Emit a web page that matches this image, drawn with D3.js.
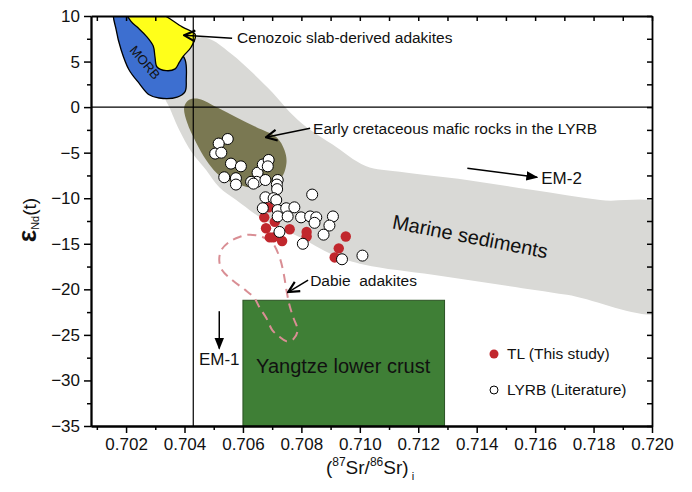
<!DOCTYPE html>
<html>
<head>
<meta charset="utf-8">
<script src="https://cdn.jsdelivr.net/npm/d3@7"></script>
<style>
  body { margin: 0; background: #fff; }
  svg text { font-family: Arial, "Liberation Sans", sans-serif; }
</style>
</head>
<body>
<div id="chart"></div>
<script>
// axis ticks
var srTicks = [0.702, 0.704, 0.706, 0.708, 0.710, 0.712, 0.714, 0.716, 0.718, 0.720];
var srMinor = [0.701, 0.703, 0.705, 0.707, 0.709, 0.711, 0.713, 0.715, 0.717, 0.719];
var ndTicks = [-35, -30, -25, -20, -15, -10, -5, 0, 5, 10];
var ndMinor = [-32.5, -27.5, -22.5, -17.5, -12.5, -7.5, -2.5, 2.5, 7.5];

// TL (this study)
var tlSr = [0.70688, 0.70673, 0.70679, 0.70692, 0.70704, 0.70734, 0.70760, 0.70818, 0.70818, 0.70952, 0.70928, 0.70914, 0.70709];
var tlNd = [-11.0, -12.1, -13.3, -14.3, -14.3, -14.7, -13.4, -13.7, -14.2, -14.2, -15.5, -16.5, -12.6];

// LYRB (literature)
var lyrbSr = [0.70548, 0.70517, 0.70505, 0.70526, 0.70559, 0.70593, 0.70536, 0.70576, 0.70576, 0.70650,
              0.70668, 0.70688, 0.70685, 0.70647, 0.70628, 0.70677, 0.70636, 0.70719, 0.70716, 0.70717,
              0.70677, 0.70705, 0.70714, 0.70668, 0.70719, 0.70748, 0.70776, 0.70719, 0.70753, 0.70799,
              0.70830, 0.70851, 0.70908, 0.70845, 0.70896, 0.70876, 0.70805, 0.70725, 0.70837, 0.71009,
              0.70939];
var lyrbNd = [-3.5, -4.0, -5.1, -5.0, -6.2, -6.5, -7.7, -7.8, -8.5, -7.2,
              -6.3, -5.8, -6.5, -8.2, -8.2, -8.0, -8.4, -8.0, -8.5, -9.0,
              -9.9, -10.0, -10.2, -11.1, -11.3, -11.1, -11.0, -12.0, -12.0, -12.1,
              -12.0, -12.1, -12.0, -12.7, -13.0, -14.0, -15.0, -13.7, -9.6, -16.3,
              -16.7];

// fields [Sr, Nd]
var marineField = [[0.70440, 7.7], [0.70492, 7.4], [0.70564, 5.75], [0.70622, 4.1], [0.70701, 1.6],
  [0.70759, -0.5], [0.70818, -2.2], [0.70907, -4.1], [0.71020, -6.45], [0.71137, -7.1],
  [0.71366, -8.0], [0.71593, -9.1], [0.71823, -10.2], [0.7205, -11.0], [0.7205, -22.3],
  [0.71709, -20.6], [0.71480, -19.5], [0.71250, -18.4], [0.71016, -17.3], [0.70907, -16.2],
  [0.70793, -14.25], [0.70673, -12.4], [0.70577, -10.2], [0.70519, -8.8], [0.70474, -6.9],
  [0.70426, -5.0], [0.70382, -2.5], [0.70348, 0.0], [0.70334, 1.1], [0.70375, 4.1], [0.70416, 6.85]];
var maficField = [[0.70416, 0.8], [0.70450, 0.9], [0.70509, 0.0], [0.70577, -1.1], [0.70646, -2.2],
  [0.70715, -3.3], [0.70742, -4.7], [0.70749, -6.1], [0.70732, -7.7], [0.70691, -8.3],
  [0.70622, -8.8], [0.70588, -8.5], [0.70543, -8.0], [0.70509, -7.2], [0.70474, -5.8],
  [0.70440, -3.9], [0.70409, -1.7], [0.70399, 0.0]];
var morbField = [[0.70160, 10.6], [0.70280, 10.6], [0.70365, 6.85], [0.70402, 5.2], [0.70406, 3.0],
  [0.70402, 1.7], [0.70375, 1.1], [0.70313, 1.0], [0.70279, 1.35], [0.70245, 2.6],
  [0.70210, 4.1], [0.70183, 6.3], [0.70166, 8.5]];
var adakiteField = [[0.70200, 10.6], [0.70296, 10.6], [0.70392, 8.8], [0.70437, 7.95], [0.70423, 6.6],
  [0.70396, 5.6], [0.70382, 4.9], [0.70368, 4.2], [0.70337, 4.0], [0.70306, 4.4],
  [0.70299, 5.5], [0.70293, 6.7], [0.70269, 7.8], [0.70241, 8.7], [0.70217, 9.4]];
var dabieField = [[0.70622, -14.0], [0.70667, -14.25], [0.70701, -14.9], [0.70725, -16.45], [0.70739, -18.2],
  [0.70749, -20.1], [0.70759, -21.7], [0.70773, -23.15], [0.70787, -24.5], [0.70773, -25.45],
  [0.70749, -25.7], [0.70725, -25.2], [0.70701, -24.5], [0.70680, -23.15], [0.70656, -21.95],
  [0.70639, -20.95], [0.70605, -20.0], [0.70564, -19.0], [0.70529, -17.9], [0.70519, -16.8],
  [0.70526, -15.7], [0.70553, -14.8], [0.70588, -14.25]];
var crustBox = {sr0: 0.706, sr1: 0.7129, nd0: -35, nd1: -21.2};
var srRef = 0.7043;

var W = 692, H = 492;
var margin = {top: 16, right: 40, bottom: 66, left: 91};

var svg = d3.select("#chart").append("svg")
  .attr("width", W)
  .attr("height", H);

var x = d3.scaleLinear().domain([0.7008, 0.720]).range([margin.left, W - margin.right]);
var y = d3.scaleLinear().domain([-35, 10]).range([H - margin.bottom, margin.top]);

svg.append("defs").append("clipPath").attr("id", "plot")
  .append("rect")
  .attr("x", x.range()[0]).attr("y", y.range()[1])
  .attr("width", x.range()[1] - x.range()[0])
  .attr("height", y.range()[0] - y.range()[1]);

var defs = svg.select("defs");
defs.append("marker").attr("id", "vhead")
  .attr("viewBox", "0 0 10 10").attr("refX", 9).attr("refY", 5)
  .attr("markerWidth", 9).attr("markerHeight", 9).attr("orient", "auto")
  .append("path").attr("d", "M1,1 L9,5 L1,9").attr("fill", "none").attr("stroke", "#000").attr("stroke-width", 1.6);
defs.append("marker").attr("id", "fhead")
  .attr("viewBox", "0 0 10 10").attr("refX", 9).attr("refY", 5)
  .attr("markerWidth", 8).attr("markerHeight", 8).attr("orient", "auto")
  .append("path").attr("d", "M0,1 L10,5 L0,9 Z").attr("fill", "#000");

var plot = svg.append("g").attr("clip-path", "url(#plot)");

var smooth = d3.line()
  .x(function(d) { return x(d[0]); })
  .y(function(d) { return y(d[1]); })
  .curve(d3.curveCatmullRomClosed.alpha(0.5));

plot.append("path").datum(marineField).attr("d", smooth).attr("fill", "#d9d9d6");
plot.append("path").datum(maficField).attr("d", smooth).attr("fill", "#7a7852");
plot.append("path").datum(morbField).attr("d", smooth)
  .attr("fill", "#3d6fd0").attr("stroke", "#000").attr("stroke-width", 1.3);
plot.append("path").datum(adakiteField).attr("d", smooth)
  .attr("fill", "#ffff1a").attr("stroke", "#000").attr("stroke-width", 1.3);

plot.append("rect")
  .attr("x", x(crustBox.sr0)).attr("y", y(crustBox.nd1))
  .attr("width", x(crustBox.sr1) - x(crustBox.sr0))
  .attr("height", y(crustBox.nd0) - y(crustBox.nd1))
  .attr("fill", "#3f7f36").attr("stroke", "#2b5224").attr("stroke-width", 1);

plot.append("path").datum(dabieField).attr("d", smooth)
  .attr("fill", "none").attr("stroke", "#d98e94").attr("stroke-width", 2)
  .attr("stroke-dasharray", "9,6");

// reference lines
plot.append("line")
  .attr("x1", x.range()[0]).attr("x2", x.range()[1])
  .attr("y1", y(0)).attr("y2", y(0))
  .attr("stroke", "#000").attr("stroke-width", 1.2);
plot.append("line")
  .attr("x1", x(srRef)).attr("x2", x(srRef))
  .attr("y1", y.range()[1]).attr("y2", y.range()[0])
  .attr("stroke", "#000").attr("stroke-width", 1.2);

// points
var tl = d3.zip(tlSr, tlNd), lyrb = d3.zip(lyrbSr, lyrbNd);
plot.selectAll("circle.tl").data(tl).enter().append("circle")
  .attr("class", "tl")
  .attr("cx", function(d) { return x(d[0]); })
  .attr("cy", function(d) { return y(d[1]); })
  .attr("r", 5.2).attr("fill", "#c1272d");
plot.selectAll("circle.lyrb").data(lyrb).enter().append("circle")
  .attr("class", "lyrb")
  .attr("cx", function(d) { return x(d[0]); })
  .attr("cy", function(d) { return y(d[1]); })
  .attr("r", 5.5).attr("fill", "#fff").attr("stroke", "#000").attr("stroke-width", 1);

// text labels
var anno = svg.append("g").attr("font-size", 15.5).attr("fill", "#111");
function arrow(a, b, head) {
  anno.append("line")
    .attr("x1", x(a[0])).attr("y1", y(a[1]))
    .attr("x2", x(b[0])).attr("y2", y(b[1]))
    .attr("stroke", "#000").attr("stroke-width", 1.5)
    .attr("marker-end", "url(#" + head + ")");
}
arrow([0.70563, 7.55], [0.70399, 7.88], "vhead");
anno.append("text").attr("x", x(0.7058)).attr("y", y(7.6)).attr("dy", "0.35em").text("Cenozoic slab-derived adakites");
arrow([0.70830, -2.33], [0.70679, -3.31], "vhead");
anno.append("text").attr("x", x(0.7084)).attr("y", y(-2.33)).attr("dy", "0.35em").text("Early cretaceous mafic rocks in the LYRB");
arrow([0.70823, -19.0], [0.70755, -20.3], "vhead");
anno.append("text").attr("x", x(0.7083)).attr("y", y(-19.0)).attr("dy", "0.35em").attr("xml:space", "preserve").text("Dabie  adakites");

arrow([0.71368, -6.72], [0.71607, -7.70], "fhead");
anno.append("text").attr("x", x(0.71621)).attr("y", y(-7.8)).attr("dy", "0.35em").attr("font-size", 17).text("EM-2");
arrow([0.70519, -22.4], [0.70519, -26.5], "fhead");
anno.append("text").attr("x", x(0.70519)).attr("y", y(-27.7)).attr("dy", "0.35em").attr("font-size", 17)
  .attr("text-anchor", "middle").text("EM-1");

anno.append("text").attr("x", x(0.70943)).attr("y", y(-28.4)).attr("dy", "0.35em").attr("font-size", 20)
  .attr("text-anchor", "middle").text("Yangtze lower crust");
anno.append("text")
  .attr("transform", "translate(" + x(0.71378) + "," + y(-14.2) + ") rotate(11)")
  .attr("dy", "0.35em").attr("font-size", 20).attr("text-anchor", "middle").text("Marine sediments");
anno.append("text")
  .attr("transform", "translate(" + x(0.70265) + "," + y(4.9) + ") rotate(50)")
  .attr("dy", "0.35em").attr("font-size", 13).attr("text-anchor", "middle").text("MORB");

// axes
function styleAxis(g) {
  g.select(".domain").attr("stroke-width", 1.8);
  g.selectAll(".tick line").attr("stroke-width", 1.5);
  g.selectAll("text").attr("font-size", 17).attr("fill", "#111");
}
var x0 = y.range()[0], y0 = x.range()[0];
svg.append("g").attr("transform", "translate(0," + x0 + ")")
  .call(d3.axisBottom(x).tickValues(srMinor).tickFormat("").tickSize(4).tickSizeOuter(0)).call(styleAxis);
svg.append("g").attr("transform", "translate(0," + x0 + ")")
  .call(d3.axisBottom(x).tickValues(srTicks).tickFormat(d3.format(".3f")).tickSize(7).tickPadding(5).tickSizeOuter(0))
  .call(styleAxis);
svg.append("g").attr("transform", "translate(0," + margin.top + ")")
  .call(d3.axisBottom(x).tickValues(srTicks.concat(srMinor)).tickFormat("").tickSize(5).tickSizeOuter(0)).call(styleAxis);
svg.append("g").attr("transform", "translate(" + y0 + ",0)")
  .call(d3.axisLeft(y).tickValues(ndMinor).tickFormat("").tickSize(4).tickSizeOuter(0)).call(styleAxis);
svg.append("g").attr("transform", "translate(" + y0 + ",0)")
  .call(d3.axisLeft(y).tickValues(ndTicks).tickSize(7).tickPadding(4).tickSizeOuter(0)).call(styleAxis);
svg.append("g").attr("transform", "translate(" + x.range()[1] + ",0)")
  .call(d3.axisLeft(y).tickValues(ndTicks.concat(ndMinor)).tickFormat("").tickSize(5).tickSizeOuter(0)).call(styleAxis);

// axis titles
var yt = svg.append("text").attr("transform", "translate(36,220) rotate(-90)")
  .attr("text-anchor", "middle").attr("fill", "#111");
yt.append("tspan").attr("font-size", 26).attr("font-weight", "bold").text("ε");
yt.append("tspan").attr("font-size", 11).attr("dy", 3).text("Nd");
yt.append("tspan").attr("font-size", 19).attr("dy", -3).text("(t)");

var xt = svg.append("text").attr("x", 370).attr("y", 474)
  .attr("text-anchor", "middle").attr("font-size", 19).attr("fill", "#111");
xt.append("tspan").text("(");
xt.append("tspan").attr("font-size", 12).attr("dy", -8).text("87");
xt.append("tspan").attr("dy", 8).text("Sr/");
xt.append("tspan").attr("font-size", 12).attr("dy", -8).text("86");
xt.append("tspan").attr("dy", 8).text("Sr)");
xt.append("tspan").attr("font-size", 11).attr("dy", 6).text(" i");

// legend
var leg = svg.append("g").attr("font-size", 15.5).attr("fill", "#111");
leg.append("circle").attr("cx", 494).attr("cy", 354).attr("r", 4.5).attr("fill", "#c1272d");
leg.append("text").attr("x", 507).attr("y", 354).attr("dy", "0.35em").text("TL (This study)");
leg.append("circle").attr("cx", 494).attr("cy", 390).attr("r", 4).attr("fill", "#fff").attr("stroke", "#000");
leg.append("text").attr("x", 507).attr("y", 390).attr("dy", "0.35em").text("LYRB (Literature)");
</script>
</body>
</html>
